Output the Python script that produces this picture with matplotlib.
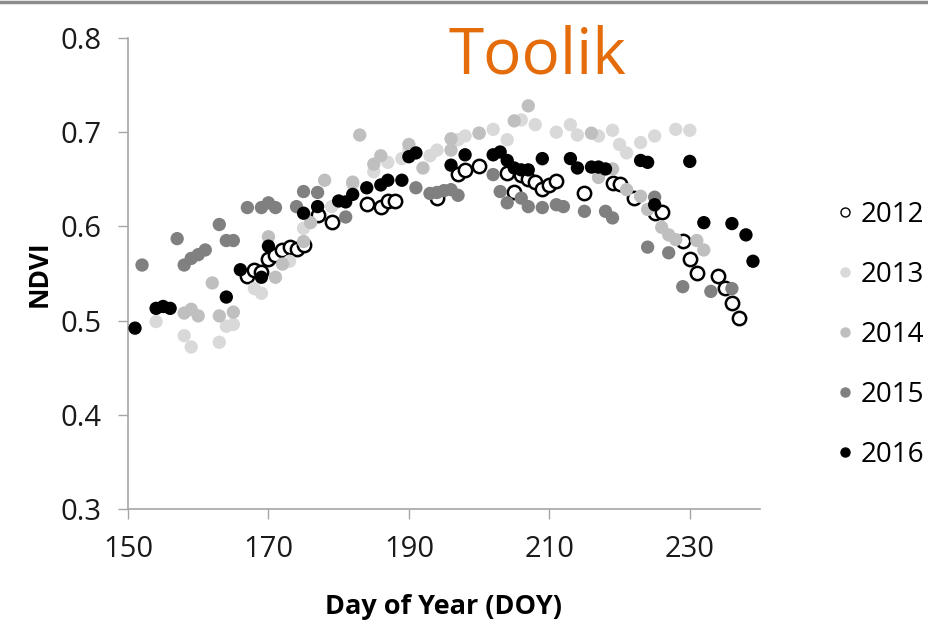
import matplotlib
matplotlib.use("Agg")
import matplotlib.pyplot as plt
from matplotlib.lines import Line2D

# ---------------- data ----------------
doy_2012 = [167, 168, 169, 170, 171, 172, 173, 174, 175, 177, 179, 184, 186, 187, 188,
            194, 197, 198, 200, 204, 205, 206, 207, 208, 209, 210, 211, 215, 219, 220,
            222, 225, 226, 229, 230, 231, 234, 235, 236, 237]
ndvi_2012 = [0.547, 0.554, 0.552, 0.565, 0.570, 0.575, 0.578, 0.576, 0.580, 0.612, 0.605,
             0.624, 0.621, 0.627, 0.627, 0.630, 0.656, 0.660, 0.664, 0.657, 0.637, 0.655,
             0.650, 0.647, 0.640, 0.644, 0.648, 0.635, 0.646, 0.645, 0.630, 0.614, 0.615,
             0.584, 0.565, 0.551, 0.547, 0.535, 0.519, 0.503]

doy_2013 = [154, 158, 159, 163, 164, 165, 168, 169, 173, 175, 179, 182, 185, 187, 189,
            190, 193, 194, 197, 198, 200, 202, 204, 206, 208, 209, 211, 213, 214, 217,
            219, 220, 221, 223, 225, 228, 230]
ndvi_2013 = [0.499, 0.484, 0.472, 0.477, 0.494, 0.496, 0.534, 0.529, 0.563, 0.598, 0.621,
             0.645, 0.658, 0.668, 0.672, 0.681, 0.675, 0.681, 0.692, 0.696, 0.699, 0.703,
             0.692, 0.713, 0.708, 0.671, 0.700, 0.708, 0.697, 0.696, 0.702, 0.687, 0.678,
             0.689, 0.696, 0.703, 0.702]

doy_2014 = [158, 159, 160, 162, 163, 165, 170, 171, 172, 175, 176, 178, 182, 183, 185,
            186, 190, 192, 196, 196, 200, 205, 207, 216, 217, 219, 221, 223, 224, 226,
            227, 228, 231, 232]
ndvi_2014 = [0.508, 0.512, 0.505, 0.540, 0.505, 0.509, 0.589, 0.546, 0.560, 0.584, 0.604,
             0.649, 0.647, 0.697, 0.666, 0.675, 0.687, 0.662, 0.693, 0.681, 0.699, 0.712,
             0.728, 0.699, 0.652, 0.661, 0.639, 0.632, 0.618, 0.599, 0.591, 0.586, 0.585,
             0.575]

doy_2015 = [152, 157, 158, 159, 160, 161, 163, 164, 165, 167, 169, 170, 171, 174, 175,
            177, 181, 191, 193, 194, 195, 196, 197, 202, 203, 204, 206, 207, 209, 211,
            212, 215, 218, 219, 224, 225, 227, 229, 233, 236]
ndvi_2015 = [0.559, 0.587, 0.559, 0.566, 0.570, 0.575, 0.602, 0.585, 0.585, 0.620, 0.620,
             0.625, 0.620, 0.621, 0.637, 0.636, 0.610, 0.641, 0.635, 0.636, 0.638, 0.639,
             0.633, 0.655, 0.637, 0.625, 0.630, 0.621, 0.620, 0.623, 0.621, 0.616, 0.616,
             0.609, 0.578, 0.631, 0.572, 0.536, 0.531, 0.534]

doy_2016 = [151, 154, 155, 156, 164, 166, 169, 170, 175, 177, 180, 181, 182, 184, 186,
            187, 189, 190, 191, 196, 198, 202, 203, 204, 205, 206, 207, 209, 213, 214,
            216, 217, 218, 223, 224, 225, 230, 232, 236, 238, 239]
ndvi_2016 = [0.492, 0.513, 0.515, 0.513, 0.525, 0.554, 0.546, 0.579, 0.614, 0.621, 0.627,
             0.626, 0.634, 0.641, 0.644, 0.649, 0.649, 0.674, 0.678, 0.665, 0.676, 0.676,
             0.679, 0.670, 0.662, 0.660, 0.660, 0.672, 0.672, 0.662, 0.663, 0.663, 0.661,
             0.670, 0.668, 0.623, 0.669, 0.604, 0.603, 0.591, 0.563]

years = ["2012", "2013", "2014", "2015", "2016"]
x_ticks = [150, 170, 190, 210, 230]
y_ticks = [0.3, 0.4, 0.5, 0.6, 0.7, 0.8]

# ---------------- styling ----------------
plt.rcParams['font.family'] = ['Open Sans', 'DejaVu Sans']

series = [
    (doy_2012, ndvi_2012, dict(facecolor='white', edgecolor='black', linewidth=1.8)),
    (doy_2013, ndvi_2013, dict(facecolor='#d9d9d9', edgecolor='none')),
    (doy_2014, ndvi_2014, dict(facecolor='#bfbfbf', edgecolor='none')),
    (doy_2015, ndvi_2015, dict(facecolor='#808080', edgecolor='none')),
    (doy_2016, ndvi_2016, dict(facecolor='black', edgecolor='none')),
]

fig = plt.figure(figsize=(9.29, 6.25), dpi=100)
ax = fig.add_axes([128/929, 1 - 509/625, (760-128)/929, (509-38)/625])

handles = []
for (x, y, st), lab in zip(series, years):
    ax.scatter(x, y, s=92, zorder=3, **st)
    handles.append(Line2D([], [], linestyle='none', marker='o', markersize=6.5,
                          markerfacecolor=st['facecolor'],
                          markeredgecolor=('black' if st['edgecolor'] == 'black' else st['facecolor']),
                          markeredgewidth=1.0, label=lab))

ax.set_xlim(150, 240)
ax.set_ylim(0.3, 0.8)
ax.set_xticks(x_ticks)
ax.set_yticks(y_ticks)
ax.set_yticklabels([f"{v:.1f}" for v in y_ticks])

for side in ['top', 'right']:
    ax.spines[side].set_visible(False)
for side in ['left', 'bottom']:
    ax.spines[side].set_color('#a6a6a6')
    ax.spines[side].set_linewidth(1.2)
ax.tick_params(axis='both', direction='out', length=7, width=1.0, color='#a6a6a6',
               labelsize=21, labelcolor='#1a1a1a')
ax.tick_params(axis='y', pad=12)
ax.tick_params(axis='x', pad=12)

ax.set_ylabel("NDVI", fontsize=19, fontweight='bold', labelpad=6)
ax.set_xlabel("Day of Year (DOY)", fontsize=19.5, fontweight='bold', labelpad=21)

fig.text(537/929, 1 - 56/625, "Toolik", color='#e46c0a', fontsize=46,
         ha='center', va='center')

leg = fig.legend(handles=handles, loc='upper left', bbox_to_anchor=(820/929, 1 - 190/625),
                 frameon=False, fontsize=20, labelspacing=1.15, handletextpad=0.05,
                 handlelength=1.0, borderaxespad=0)

fig.add_artist(Line2D([0, 1], [1 - 1.5/625, 1 - 1.5/625], color='#8c8c8c', linewidth=2.5,
                      transform=fig.transFigure))

fig.savefig("out.png", dpi=100)
